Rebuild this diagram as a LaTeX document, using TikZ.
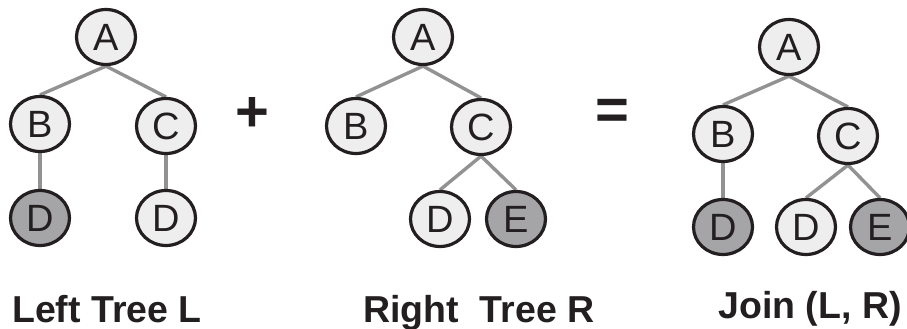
\documentclass[tikz,border=0pt]{standalone}
\usepackage{fontspec}
\setmainfont{Liberation Sans}
\usetikzlibrary{shapes.geometric,backgrounds}
\definecolor{nodelight}{HTML}{EEEEEE}
\definecolor{nodedark}{HTML}{A5A5A7}
\definecolor{outline}{HTML}{231F20}
\definecolor{edgegray}{HTML}{929292}
\begin{document}
\begin{tikzpicture}[x=1pt,y=-1pt,
  tnode/.style={ellipse, draw=outline, line width=3.2pt, fill=nodelight,
    minimum width=59pt, minimum height=55pt, inner sep=0pt,
    text=outline, font=\fontsize{38}{38}\selectfont},
  dnode/.style={tnode, fill=nodedark},
  link/.style={draw=edgegray, line width=3.4pt},
  optext/.style={text=outline, font=\bfseries\fontsize{58}{58}\selectfont, inner sep=0pt},
  caption/.style={text=outline, font=\bfseries\fontsize{37.5}{37.5}\selectfont, anchor=base, inner sep=0pt}]
\useasboundingbox (0,0) rectangle (907,329);

% left tree
\node[tnode] (lA)  at (106,37)  {A};
\node[tnode] (lB)  at (40,124)  {B};
\node[tnode] (lC)  at (166,126) {C};
\node[dnode] (lD1) at (40,218)  {D};
\node[tnode] (lD2) at (166,218) {D};

% right tree
\node[tnode] (rA) at (423,37)  {A};
\node[tnode] (rB) at (356,126) {B};
\node[tnode] (rC) at (481,127) {C};
\node[tnode] (rD) at (440,219) {D};
\node[dnode] (rE) at (516,219) {E};

% joined tree
\node[tnode] (jA)  at (789,47)  {A};
\node[tnode] (jB)  at (723,134) {B};
\node[tnode] (jC)  at (848,136) {C};
\node[dnode] (jD1) at (723,227) {D};
\node[tnode] (jD2) at (806,227) {D};
\node[dnode] (jE)  at (880,227) {E};

\begin{scope}[on background layer]
  \draw[link] (lA.south) -- (lB.north);
  \draw[link] (lA.south) -- (lC.north);
  \draw[link] (lB.south) -- (lD1.north);
  \draw[link] (lC.south) -- (lD2.north);
  \draw[link] (rA.south) -- (rB.north);
  \draw[link] (rA.south) -- (rC.north);
  \draw[link] (rC.south) -- (rD.north);
  \draw[link] (rC.south) -- (rE.north);
  \draw[link] (jA.south) -- (jB.north);
  \draw[link] (jA.south) -- (jC.north);
  \draw[link] (jB.south) -- (jD1.north);
  \draw[link] (jC.south) -- (jD2.north);
  \draw[link] (jC.south) -- (jE.north);
\end{scope}

% operators
\node[optext] (plus) at (252,114) {+};
\node[optext] (equals) at (612,114) {=};

% captions
\node[caption] (capL) at (107,322) {Left Tree L};
\node[caption] (capR) at (479,322) {Right\ \ Tree R};
\node[caption] (capJ) at (810,318) {Join (L, R)};
\end{tikzpicture}
\end{document}
